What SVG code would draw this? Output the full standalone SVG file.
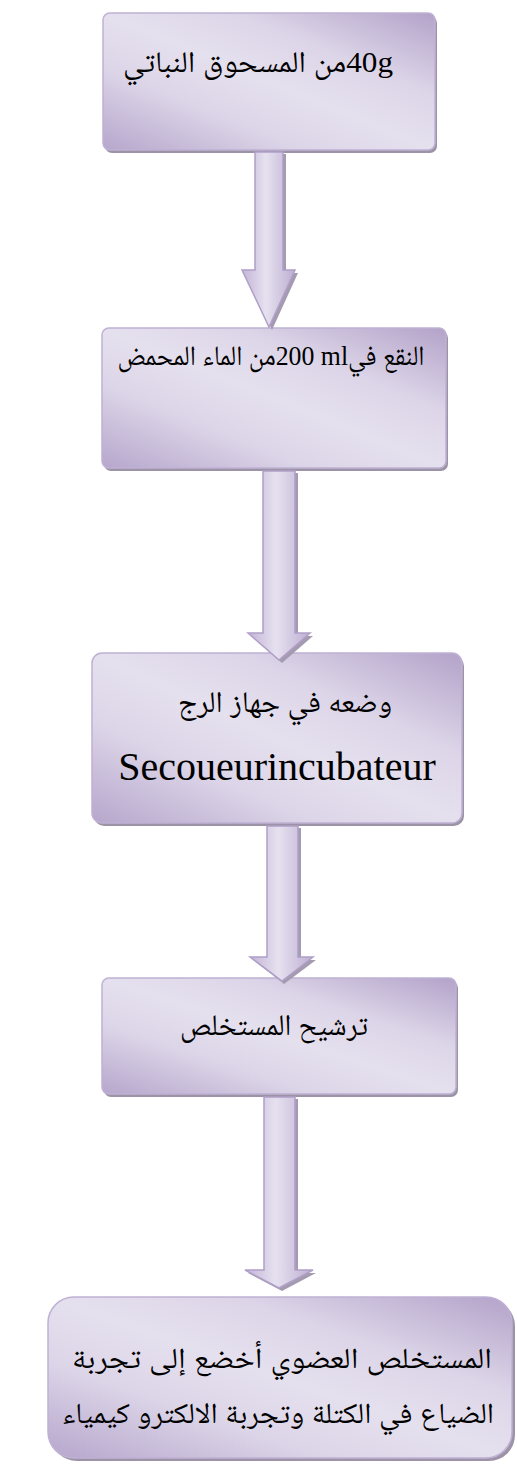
<svg xmlns="http://www.w3.org/2000/svg" width="517" height="1464" viewBox="0 0 517 1464">
  <defs>
    <linearGradient id="boxGrad" x1="1" y1="0" x2="0" y2="1">
      <stop offset="0" stop-color="#b3a2c9"/>
      <stop offset="0.3" stop-color="#dcd5e8"/>
      <stop offset="0.5" stop-color="#e5e0ee"/>
      <stop offset="0.7" stop-color="#dcd5e8"/>
      <stop offset="1" stop-color="#b6a6cc"/>
    </linearGradient>
    <linearGradient id="arrowGrad" x1="0" y1="0" x2="1" y2="0">
      <stop offset="0" stop-color="#c2b4d7"/>
      <stop offset="0.45" stop-color="#e6e1ef"/>
      <stop offset="1" stop-color="#bcaed2"/>
    </linearGradient>
  </defs>
  <style>
    .shadow { fill: #9c94a6; }
    .box { fill: url(#boxGrad); stroke: #bfb1d4; stroke-width: 1.5; }
    .arrow { fill: url(#arrowGrad); stroke: #b09fc8; stroke-width: 1.5; }
    .ashadow { fill: #a59bb0; }
    .t { font-family: "Liberation Serif", "Noto Naskh Arabic", "Amiri", "DejaVu Sans", serif; fill: #000; text-anchor: middle; direction: rtl; }
    .lt { font-family: "Liberation Serif", serif; fill: #000; text-anchor: middle; }
  </style>

  <g id="node1">
    <rect class="shadow" x="105" y="16" width="332" height="137" rx="7"/>
    <rect class="box" x="103" y="13" width="332" height="137" rx="7"/>
    <text class="t" x="258" y="72" font-size="30" textLength="270" lengthAdjust="spacingAndGlyphs">40gمن المسحوق النباتي</text>
  </g>

  <g id="node2">
    <rect class="shadow" x="104" y="331" width="344" height="140" rx="7"/>
    <rect class="box" x="102" y="328" width="344" height="140" rx="7"/>
    <text class="t" x="271" y="365" font-size="28" textLength="307" lengthAdjust="spacingAndGlyphs">النقع في&#x2066;200 ml&#x2069;من الماء المحمض</text>
  </g>

  <g id="node3">
    <rect class="shadow" x="94" y="656" width="370" height="170" rx="10"/>
    <rect class="box" x="92" y="653" width="370" height="170" rx="10"/>
    <text class="t" x="285" y="712" font-size="30" textLength="214" lengthAdjust="spacingAndGlyphs">وضعه في جهاز الرج</text>
    <text class="lt" x="277" y="780" font-size="40">Secoueurincubateur</text>
  </g>

  <g id="node4">
    <rect class="shadow" x="104" y="981" width="354" height="116" rx="7"/>
    <rect class="box" x="102" y="978" width="354" height="116" rx="7"/>
    <text class="t" x="274" y="1035" font-size="30" textLength="188" lengthAdjust="spacingAndGlyphs">ترشيح المستخلص</text>
  </g>

  <g id="node5">
    <rect class="shadow" x="51" y="1300" width="464" height="161" rx="26"/>
    <rect class="box" x="48" y="1297" width="464" height="161" rx="26"/>
    <text class="t" x="282" y="1368" font-size="29" textLength="420" lengthAdjust="spacingAndGlyphs">المستخلص العضوي أخضع إلى تجربة</text>
    <text class="t" x="278" y="1423" font-size="29" textLength="432" lengthAdjust="spacingAndGlyphs">الضياع في الكتلة وتجربة الالكترو كيمياء</text>
  </g>

  <g id="connectors">
    <g id="arrow1">
      <path class="ashadow" d="M258,154 H286 V273 H298 L272,330 L245,273 H258 Z"/>
      <path class="arrow" d="M255,152 H283 V270 H295 L269,327 L242,270 H255 Z"/>
    </g>
    <g id="arrow2">
      <path class="ashadow" d="M266,473 H298 V636 H313 L282,663 L251,636 H266 Z"/>
      <path class="arrow" d="M263,471 H295 V633 H310 L279,660 L248,633 H263 Z"/>
    </g>
    <g id="arrow3">
      <path class="ashadow" d="M270,828 H301 V960 H316 L284,984 L253,960 H270 Z"/>
      <path class="arrow" d="M267,826 H298 V957 H313 L282,981 L250,957 H267 Z"/>
    </g>
    <g id="arrow4">
      <path class="ashadow" d="M267,1099 H298 V1273 H316 L282,1291 L248,1273 H267 Z"/>
      <path class="arrow" d="M264,1097 H295 V1270 H313 L279,1288 L245,1270 H264 Z"/>
    </g>
  </g>
</svg>
